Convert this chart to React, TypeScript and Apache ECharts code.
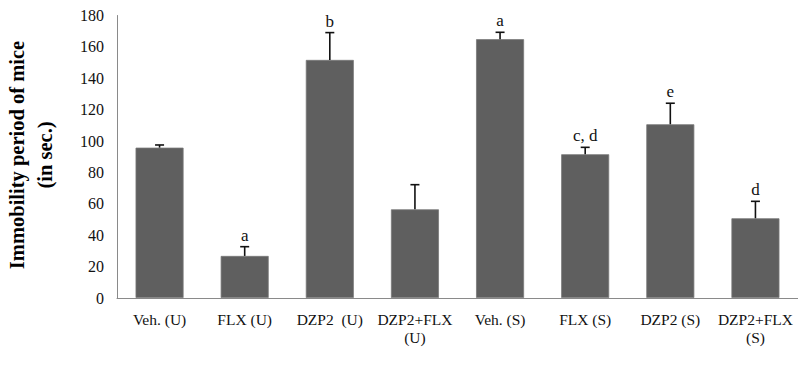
import React, { useEffect, useRef } from "react";
import * as echarts from "echarts";

// Immobility period per treatment group (mean, upper SEM and significance letter)
const categories = [
  "Veh. (U)",
  "FLX (U)",
  "DZP2  (U)",
  "DZP2+FLX\n(U)",
  "Veh. (S)",
  "FLX (S)",
  "DZP2 (S)",
  "DZP2+FLX\n(S)",
];
const means = [95.8, 26.8, 151.7, 56.5, 164.9, 91.6, 110.7, 50.8];
const errors = [1.7, 5.9, 17.4, 15.7, 4.4, 4.4, 13.4, 10.8];
const letters = ["", "a", "b", "", "a", "c, d", "e", "d"];
const yTicks = [0, 20, 40, 60, 80, 100, 120, 140, 160, 180];

const SERIF = "'Liberation Serif', 'Times New Roman', serif";

export default function App() {
  const ref = useRef<HTMLDivElement>(null);

  useEffect(() => {
    if (!ref.current) return;
    const chart = echarts.init(ref.current, undefined, { renderer: "svg" });

    const errorData = means.map((m, i) => [i, m, m + errors[i], letters[i]]);

    chart.setOption({
      animation: false,
      backgroundColor: "#ffffff",
      grid: { left: 117, top: 15.5, width: 684, height: 282.5, containLabel: false },
      xAxis: {
        type: "category",
        data: categories,
        axisLine: { show: true, lineStyle: { color: "#8a8a8a", width: 1 } },
        axisTick: { show: false },
        axisLabel: {
          color: "#111",
          fontFamily: SERIF,
          fontSize: 15.5,
          lineHeight: 18,
          margin: 12,
          interval: 0,
          hideOverlap: false,
        },
      },
      yAxis: {
        type: "value",
        min: yTicks[0],
        max: yTicks[yTicks.length - 1],
        interval: 20,
        axisLine: { show: true, lineStyle: { color: "#8a8a8a", width: 1 } },
        axisTick: { show: false },
        splitLine: { show: false },
        axisLabel: {
          color: "#111",
          fontFamily: SERIF,
          fontSize: 16,
          margin: 13,
        },
      },
      graphic: [
        {
          type: "text",
          x: 31,
          y: 155,
          rotation: Math.PI / 2,
          style: {
            text: "Immobility period of mice\n(in sec.)",
            fontFamily: SERIF,
            fontWeight: "bold",
            fontSize: 20.5,
            lineHeight: 28,
            fill: "#000",
            align: "center",
            verticalAlign: "middle",
          },
        },
      ],
      series: [
        {
          type: "bar",
          data: means,
          barWidth: 48,
          itemStyle: { color: "#5f5f5f", borderColor: "#787878", borderWidth: 0.8 },
          silent: true,
        },
        {
          type: "custom",
          data: errorData,
          silent: true,
          z: 5,
          renderItem: (params: any, api: any) => {
            const i = api.value(0);
            const base = api.coord([i, api.value(1)]);
            const top = api.coord([i, api.value(2)]);
            const label = letters[params.dataIndex];
            const children: any[] = [
              {
                type: "line",
                shape: { x1: base[0], y1: base[1], x2: top[0], y2: top[1] },
                style: { stroke: "#111", lineWidth: 1.6 },
              },
              {
                type: "line",
                shape: { x1: top[0] - 4.5, y1: top[1], x2: top[0] + 4.5, y2: top[1] },
                style: { stroke: "#111", lineWidth: 1.6 },
              },
            ];
            if (label) {
              children.push({
                type: "text",
                x: top[0],
                y: top[1] - 3,
                style: {
                  text: label,
                  fontFamily: SERIF,
                  fontSize: 17,
                  fill: "#111",
                  align: "center",
                  verticalAlign: "bottom",
                },
              });
            }
            return { type: "group", children };
          },
        },
      ],
    });

    return () => chart.dispose();
  }, []);

  return (
    <div
      ref={ref}
      style={{ position: "fixed", left: 0, top: 0, width: 798, height: 366, overflow: "visible" }}
    />
  );
}
